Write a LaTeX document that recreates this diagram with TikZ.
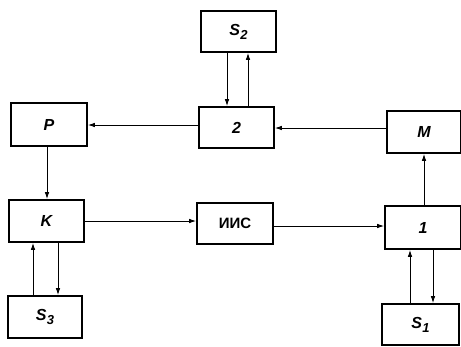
\documentclass[tikz,border=0pt]{standalone}
\usepackage{fontspec}
\setmainfont{Liberation Sans}
\usetikzlibrary{arrows.meta}
\newcommand{\Ssub}[1]{\textit{S\kern0.5pt\raisebox{-4pt}{\fontsize{13}{14}\selectfont #1}}}
\begin{document}
\begin{tikzpicture}[x=1pt,y=-1pt,
  blk/.style={draw,line width=1.6pt,minimum width=75pt,minimum height=41pt,inner sep=0pt,
    font=\fontsize{16}{18}\selectfont\bfseries\itshape},
  arr/.style={line width=1pt,-{Latex[length=7pt,width=4.5pt]}}]
\useasboundingbox (0,0) rectangle (461,346);
\node[blk] (S2) at (238.5,31.5) {\Ssub{2}};
\node[blk,minimum width=76pt,minimum height=43pt] (P) at (49,124.5) {P};
\node[blk] (B2) at (236.5,127.5) {2};
\node[blk,minimum width=74pt,minimum height=42pt] (M) at (424,132) {M};
\node[blk,minimum height=42pt] (K) at (46.5,221) {K};
\node[blk,minimum width=76pt,font=\fontsize{15}{17}\selectfont\bfseries] (IIS) at (235,223.5) {ИИС};
\node[blk,minimum width=76pt,minimum height=43pt] (B1) at (423,227.5) {1};
\node[blk,minimum width=74pt,minimum height=42pt] (S3) at (45,317) {\Ssub{3}};
\node[blk,minimum width=77pt] (S1) at (420.5,324.5) {\Ssub{1}};
% helper coordinates
\coordinate (xa) at (227,0);
\coordinate (xb) at (248,0);
\coordinate (xp) at (47,0);
\coordinate (xm) at (424,0);
\coordinate (xk1) at (33,0);
\coordinate (xk2) at (58,0);
\coordinate (xs1) at (410,0);
\coordinate (xs2) at (433,0);
\coordinate (ya) at (0,125);
\coordinate (yb) at (0,128);
\coordinate (yc) at (0,221);
\coordinate (yd) at (0,226);
% connectors
\draw[arr] (S2.south -| xa) -- (B2.north -| xa);
\draw[arr] (B2.north -| xb) -- (S2.south -| xb);
\draw[arr] (B2.west |- ya) -- (P.east |- ya);
\draw[arr] (M.west |- yb) -- (B2.east |- yb);
\draw[arr] (P.south -| xp) -- (K.north -| xp);
\draw[arr] (K.east |- yc) -- (IIS.west |- yc);
\draw[arr] (IIS.east |- yd) -- (B1.west |- yd);
\draw[arr] (B1.north -| xm) -- (M.south -| xm);
\draw[arr] (S3.north -| xk1) -- (K.south -| xk1);
\draw[arr] (K.south -| xk2) -- (S3.north -| xk2);
\draw[arr] (S1.north -| xs1) -- (B1.south -| xs1);
\draw[arr] (B1.south -| xs2) -- (S1.north -| xs2);
\end{tikzpicture}
\end{document}
